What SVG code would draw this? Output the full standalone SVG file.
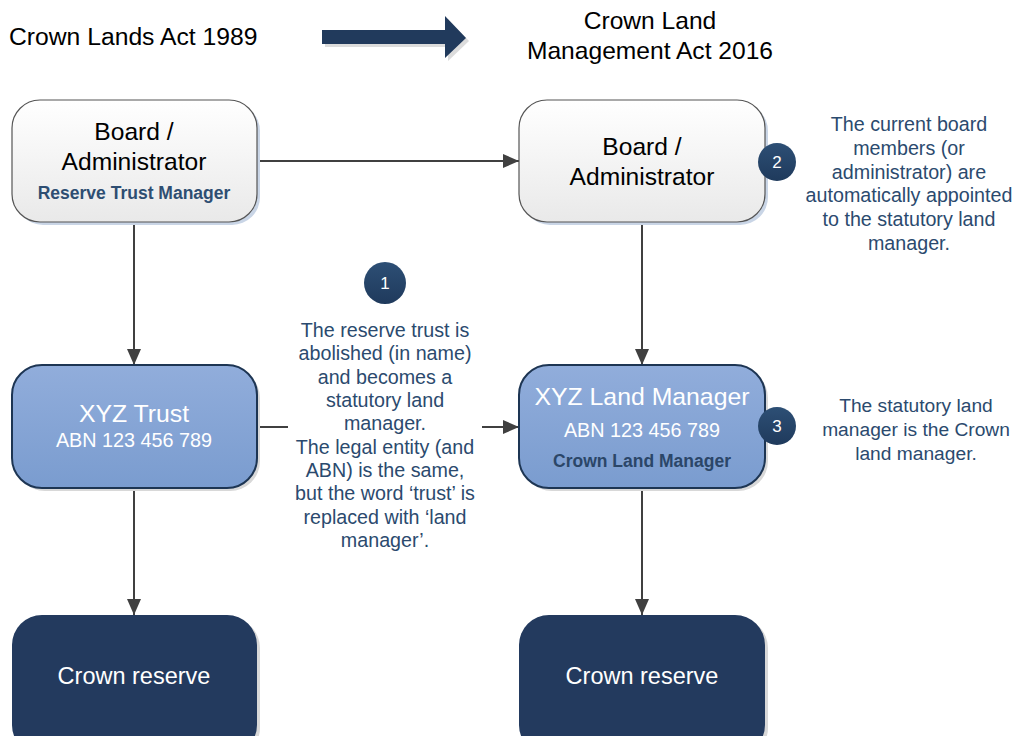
<svg xmlns="http://www.w3.org/2000/svg" width="1015" height="736" viewBox="0 0 1015 736">
<defs>
<linearGradient id="gWhite" x1="0" y1="0" x2="0" y2="1"><stop offset="0" stop-color="#ffffff"/><stop offset="1" stop-color="#e9e9e9"/></linearGradient>
<linearGradient id="gBlue" x1="0" y1="0" x2="0" y2="1"><stop offset="0" stop-color="#91addb"/><stop offset="1" stop-color="#7a9ccf"/></linearGradient>
<linearGradient id="gCirc" x1="0" y1="0" x2="0" y2="1"><stop offset="0" stop-color="#2d4f75"/><stop offset="1" stop-color="#1f3a5c"/></linearGradient>
<marker id="arrB" viewBox="0 0 16 14" refX="16" refY="7" markerWidth="16" markerHeight="14" orient="auto" markerUnits="userSpaceOnUse"><path d="M0,0 L16,7 L0,14 z" fill="#404040"/></marker>
</defs>
<style>
text{font-family:"Liberation Sans",Arial,sans-serif}
.title{font-size:24.7px;fill:#000}
.big{font-size:24.6px;fill:#000;text-anchor:middle}
.wbig{font-size:24.8px;fill:#fff;text-anchor:middle}
.wmid{font-size:19.8px;fill:#fff;text-anchor:middle}
.sub{font-size:17.5px;font-weight:bold;fill:#2e4e72;text-anchor:middle}
.note{font-size:19.7px;fill:#2b4a6e;text-anchor:middle}
.num{font-size:17px;fill:#fff;text-anchor:middle}
.conn{stroke:#404040;stroke-width:2;fill:none}
.shadow{fill:#c9d5e6}
.boxW{fill:url(#gWhite);stroke:#555;stroke-width:1.2}
.boxB{fill:url(#gBlue);stroke:#1d3553;stroke-width:2}
.boxD{fill:#233a5e}
.circ{fill:url(#gCirc)}
</style>

<g id="header">
<text class="title" x="9" y="45">Crown Lands Act 1989</text>
<path d="M325,33 H448 V19 L469,41 L448,61 V47 H325 z" fill="#dcdcdc"/>
<path d="M322,30 H445 V16 L466,38 L445,58 V44 H322 z" fill="#213a5c"/>
<text class="big" x="650" y="29">Crown Land</text>
<text class="big" x="650" y="59">Management Act 2016</text>
</g>

<g id="connectors">
<line class="conn" x1="257" y1="161" x2="519" y2="161" marker-end="url(#arrB)"/>
<line class="conn" x1="134" y1="222" x2="134" y2="365" marker-end="url(#arrB)"/>
<line class="conn" x1="642" y1="222" x2="642" y2="365" marker-end="url(#arrB)"/>
<line class="conn" x1="257" y1="427" x2="288" y2="427"/>
<line class="conn" x1="482" y1="427" x2="519" y2="427" marker-end="url(#arrB)"/>
<line class="conn" x1="134" y1="488" x2="134" y2="615" marker-end="url(#arrB)"/>
<line class="conn" x1="642" y1="488" x2="642" y2="615" marker-end="url(#arrB)"/>
</g>

<g id="board-left">
<rect class="shadow" x="15" y="103" width="245" height="122" rx="28"/>
<rect class="boxW" x="12" y="100" width="245" height="122" rx="28"/>
<text class="big" x="134" y="140">Board /</text>
<text class="big" x="134" y="170">Administrator</text>
<text class="sub" x="134" y="199">Reserve Trust Manager</text>
</g>

<g id="board-right">
<rect class="shadow" x="522" y="103" width="246" height="122" rx="28"/>
<rect class="boxW" x="519" y="100" width="246" height="122" rx="28"/>
<text class="big" x="642" y="155">Board /</text>
<text class="big" x="642" y="185">Administrator</text>
</g>

<g id="badge-2">
<circle class="circ" cx="777" cy="162" r="19"/>
<text class="num" x="777" y="168">2</text>
</g>
<g id="note-2">
<text class="note" x="909" y="131">The current board</text>
<text class="note" x="909" y="155">members (or</text>
<text class="note" x="909" y="179">administrator) are</text>
<text class="note" x="909" y="202">automatically appointed</text>
<text class="note" x="909" y="226">to the statutory land</text>
<text class="note" x="909" y="250">manager.</text>
</g>

<g id="xyz-trust">
<rect x="15" y="368" width="245" height="123" rx="30" fill="#d8d8d8"/>
<rect class="boxB" x="12" y="365" width="245" height="123" rx="30"/>
<text class="wbig" x="134" y="422">XYZ Trust</text>
<text class="wmid" x="134" y="447">ABN 123 456 789</text>
</g>

<g id="badge-1">
<circle class="circ" cx="385" cy="283" r="21"/>
<text class="num" x="385" y="289">1</text>
</g>
<g id="note-1">
<text class="note" x="385" y="337">The reserve trust is</text>
<text class="note" x="385" y="360">abolished (in name)</text>
<text class="note" x="385" y="384">and becomes a</text>
<text class="note" x="385" y="407">statutory land</text>
<text class="note" x="385" y="430">manager.</text>
<text class="note" x="385" y="454">The legal entity (and</text>
<text class="note" x="385" y="477">ABN) is the same,</text>
<text class="note" x="385" y="500">but the word ‘trust’ is</text>
<text class="note" x="385" y="524">replaced with ‘land</text>
<text class="note" x="385" y="547">manager’.</text>
</g>

<g id="xyz-land-manager">
<rect x="522" y="368" width="246" height="123" rx="30" fill="#d8d8d8"/>
<rect class="boxB" x="519" y="365" width="246" height="123" rx="30"/>
<text class="wbig" x="642" y="405">XYZ Land Manager</text>
<text class="wmid" x="642" y="437">ABN 123 456 789</text>
<text class="sub" x="642" y="467" style="fill:#2b4668">Crown Land Manager</text>
</g>

<g id="badge-3">
<circle class="circ" cx="777" cy="426" r="19"/>
<text class="num" x="777" y="432">3</text>
</g>
<g id="note-3">
<text class="note" x="916" y="412" style="font-size:19.2px">The statutory land</text>
<text class="note" x="916" y="436" style="font-size:19.2px">manager is the Crown</text>
<text class="note" x="916" y="460" style="font-size:19.2px">land manager.</text>
</g>

<g id="crown-reserve-left">
<rect x="15" y="618" width="245" height="140" rx="30" fill="#d8d8d8"/>
<rect class="boxD" x="12" y="615" width="245" height="140" rx="30"/>
<text class="wbig" x="134" y="684" style="font-size:23.5px">Crown reserve</text>
</g>

<g id="crown-reserve-right">
<rect x="522" y="618" width="246" height="140" rx="30" fill="#d8d8d8"/>
<rect class="boxD" x="519" y="615" width="246" height="140" rx="30"/>
<text class="wbig" x="642" y="684" style="font-size:23.5px">Crown reserve</text>
</g>
</svg>
